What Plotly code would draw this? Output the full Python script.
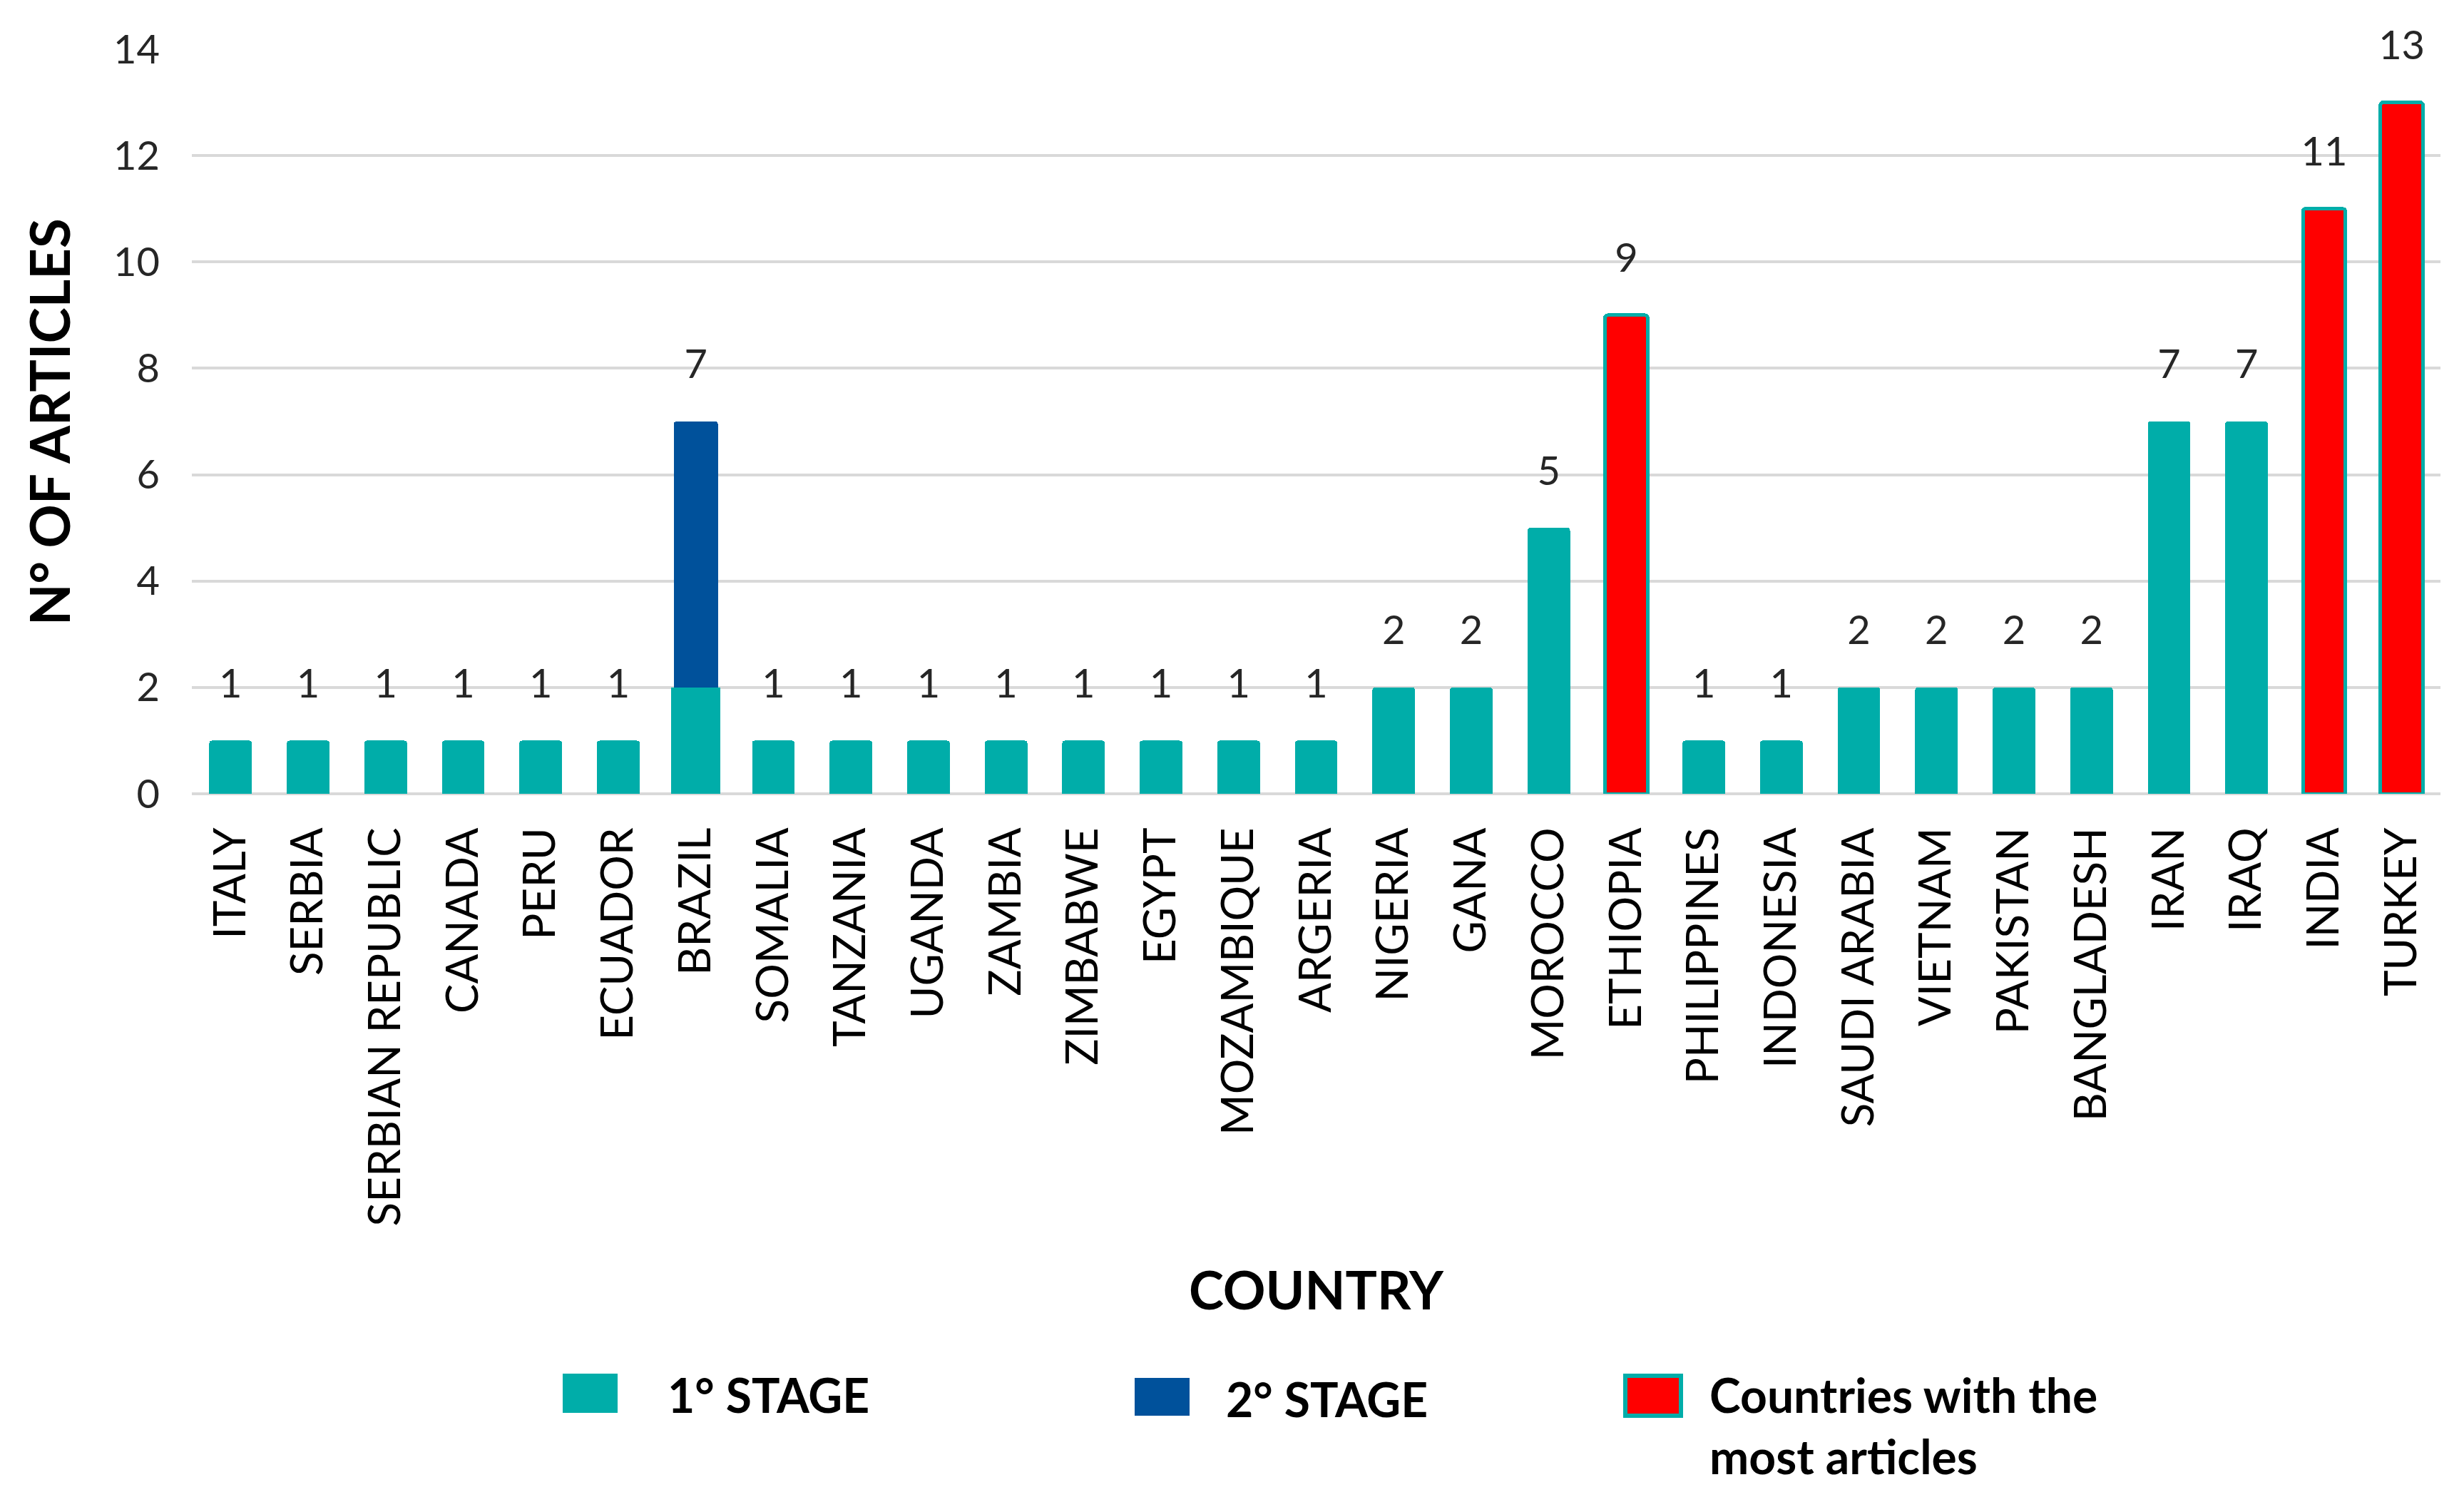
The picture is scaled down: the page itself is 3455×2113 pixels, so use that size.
import plotly.graph_objects as go

countries = ["ITALY", "SERBIA", "SERBIAN REPUBLIC", "CANADA", "PERU", "ECUADOR", "BRAZIL",
             "SOMALIA", "TANZANIA", "UGANDA", "ZAMBIA", "ZIMBABWE", "EGYPT", "MOZAMBIQUE",
             "ARGERIA", "NIGERIA", "GANA", "MOROCCO", "ETHIOPIA", "PHILIPPINES", "INDONESIA",
             "SAUDI ARABIA", "VIETNAM", "PAKISTAN", "BANGLADESH", "IRAN", "IRAQ", "INDIA", "TURKEY"]
stage1 = [1, 1, 1, 1, 1, 1, 2, 1, 1, 1, 1, 1, 1, 1, 1, 2, 2, 5, None, 1, 1, 2, 2, 2, 2, 7, 7, None, None]
stage2 = [None, None, None, None, None, None, 5, None, None, None, None, None, None, None, None,
          None, None, None, None, None, None, None, None, None, None, None, None, None, None]
most = [None] * 18 + [9] + [None] * 8 + [11, 13]
totals = [1, 1, 1, 1, 1, 1, 7, 1, 1, 1, 1, 1, 1, 1, 1, 2, 2, 5, 9, 1, 1, 2, 2, 2, 2, 7, 7, 11, 13]
y_ticks = [0, 2, 4, 6, 8, 10, 12, 14]

TEAL = "#00ADA9"
BLUE = "#00519B"
RED = "#FF0000"
W, H = 3455, 2113
OFF = 8  # page body offset
L, R, T, B = 269, 3422, 69, 1113
FONT = "Lato"


def px(x):
    return (x - L) / (R - L)


def py(y):
    return (B - y) / (B - T)


widths1 = [0.63 if c == "BRAZIL" else 0.55 for c in countries]

fig = go.Figure()
fig.add_trace(go.Bar(x=countries, y=stage1, name="1° STAGE", marker_color=TEAL,
                     width=widths1, marker_line_width=0, showlegend=False))
fig.add_trace(go.Bar(x=countries, y=stage2, name="2° STAGE", marker_color=BLUE,
                     width=0.57, marker_line_width=0, showlegend=False))
fig.add_trace(go.Bar(x=countries, y=most, name="Countries with the most articles",
                     marker=dict(color=RED, line=dict(color=TEAL, width=5)),
                     width=0.55, showlegend=False))
fig.add_trace(go.Scatter(x=countries, y=[v + 1 for v in totals], text=[str(v) for v in totals],
                         mode="text", textposition="middle center",
                         textfont=dict(family=FONT, size=56, color="#262626"),
                         cliponaxis=False, showlegend=False, hoverinfo="skip"))

fig.update_layout(
    width=W, height=H,
    margin=dict(l=L - OFF, r=W + OFF - R, t=T - OFF, b=H + OFF - B),
    paper_bgcolor="white", plot_bgcolor="white",
    barmode="stack", barcornerradius=4,
    font=dict(family=FONT, color="#000000"),
    showlegend=False,
)
fig.update_xaxes(
    categoryorder="array", categoryarray=countries,
    tickangle=-90, tickfont=dict(family=FONT, size=62, color="#000000"),
    showgrid=False, showline=False, ticks="", ticklabelstandoff=34,
    range=[-0.5, len(countries) - 0.5],
)
fig.update_yaxes(
    range=[0, 14], tickvals=y_ticks,
    tickfont=dict(family=FONT, size=56, color="#262626"),
    showgrid=True, gridcolor="#D9D9D9", gridwidth=4,
    zeroline=True, zerolinecolor="#D9D9D9", zerolinewidth=4,
    showline=False, ticks="", ticklabelstandoff=44,
)

annotations = [
    dict(text="<b>N° OF ARTICLES</b>", xref="paper", yref="paper", x=px(68), y=0.5,
         textangle=-90, showarrow=False, font=dict(family=FONT, size=76, color="#000000"),
         xanchor="center", yanchor="middle"),
    dict(text="<b>COUNTRY</b>", xref="paper", yref="paper", x=px(1846), y=py(1807),
         showarrow=False, font=dict(family=FONT, size=74, color="#000000"),
         xanchor="center", yanchor="middle"),
    dict(text="<b>1° STAGE</b>", xref="paper", yref="paper", x=px(934), y=py(1955),
         showarrow=False, font=dict(family=FONT, size=66, color="#000000"),
         xanchor="left", yanchor="middle"),
    dict(text="<b>2° STAGE</b>", xref="paper", yref="paper", x=px(1717), y=py(1961),
         showarrow=False, font=dict(family=FONT, size=66, color="#000000"),
         xanchor="left", yanchor="middle"),
    dict(text="<b>Countries with the<br>most articles</b>", xref="paper", yref="paper",
         x=px(2395), y=py(1914), showarrow=False, align="left",
         font=dict(family=FONT, size=66, color="#000000"),
         xanchor="left", yanchor="top"),
]
shapes = [
    dict(type="rect", xref="paper", yref="paper", x0=px(789), x1=px(866), y0=py(1981), y1=py(1926),
         fillcolor=TEAL, line=dict(width=0)),
    dict(type="rect", xref="paper", yref="paper", x0=px(1591), x1=px(1668), y0=py(1985), y1=py(1932),
         fillcolor=BLUE, line=dict(width=0)),
    dict(type="rect", xref="paper", yref="paper", x0=px(2279), x1=px(2357), y0=py(1985), y1=py(1929),
         fillcolor=RED, line=dict(width=6, color=TEAL)),
]
fig.update_layout(annotations=annotations, shapes=shapes)

fig.write_html("out.html")
